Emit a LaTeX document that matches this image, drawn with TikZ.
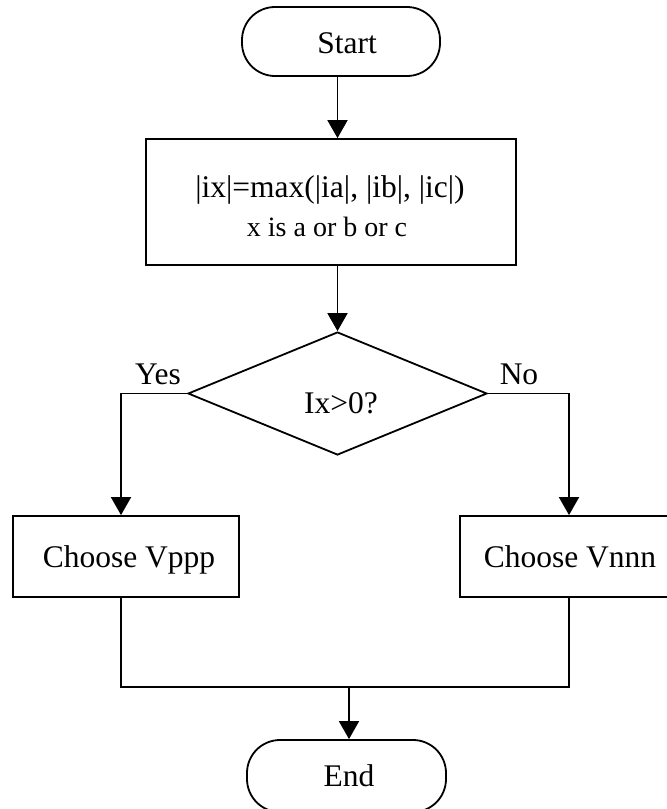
\documentclass[tikz,border=0pt]{standalone}
\usepackage{fontspec}
\setmainfont{Liberation Serif}
\usetikzlibrary{arrows.meta,shapes.geometric}
\begin{document}
\begin{tikzpicture}[x=1pt,y=-1pt,
  flow/.style={draw=black,line width=1.8pt},
  terminal/.style={flow,rectangle,rounded corners=33pt,minimum width=198pt,minimum height=69pt,inner sep=0pt},
  process/.style={flow,rectangle,inner sep=0pt},
  decision/.style={flow,diamond,inner sep=0pt,minimum width=299pt,minimum height=123pt},
  txt/.style={inner sep=0pt,anchor=base,font=\fontsize{31.5}{36}\selectfont},
  smalltxt/.style={inner sep=0pt,anchor=base,font=\fontsize{28}{33}\selectfont},
  arr/.style={-{Triangle[length=18pt,width=20pt]},line width=1.8pt},
  link/.style={line width=1.8pt}
]
\useasboundingbox (0,0) rectangle (667,809);
\clip (0,0) rectangle (667,809);

% shapes (text nodes are placed by their baselines)
\node[terminal] (start) at (341,41.5) {};
\node[txt] (starttext) at (347,53) {Start};

\node[process,minimum width=370pt,minimum height=126pt] (calc) at (331,202) {};
\node[txt] (calcline1) at (330,197) {|ix|=max(|ia|, |ib|, |ic|)};
\node[smalltxt] (calcline2) at (327,236) {x is a or b or c};

\node[decision] (test) at (337.5,393.5) {};
\node[txt] (testtext) at (341,413) {Ix>0?};
\node[txt] (yes) at (158,384) {Yes};
\node[txt] (no) at (519,384) {No};

\node[process,minimum width=226pt,minimum height=81pt] (vppp) at (126,556.5) {};
\node[txt] (vppptext) at (129,567) {Choose Vppp};
\node[process,minimum width=218pt,minimum height=81pt] (vnnn) at (569,556.5) {};
\node[txt] (vnnntext) at (570,567) {Choose Vnnn};

\node[terminal,minimum width=199pt,minimum height=72pt] (end) at (346.5,776) {};
\node[txt] (endtext) at (349,786) {End};

% connectors
\draw[arr] (start.south -| test.north) -- (calc.north -| test.north);
\draw[arr] (calc.south -| test.north) -- (test.north);
\draw[arr] (test.west) -| ([xshift=-5pt]vppp.north);
\draw[arr] (test.east) -| (vnnn.north);
\coordinate (join) at (349,687);
\draw[link] ([xshift=-5pt]vppp.south) |- (join);
\draw[link] (vnnn.south) |- (join);
\draw[arr] (join) -- (end.north -| join);
\end{tikzpicture}
\end{document}
